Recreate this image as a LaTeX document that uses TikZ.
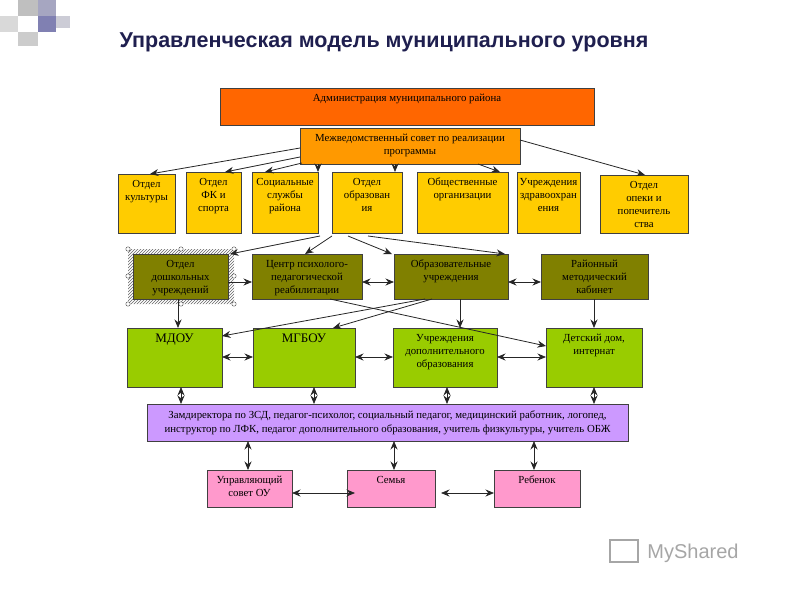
\documentclass[tikz,border=0pt]{standalone}
\usepackage{fontspec}
\setmainfont{Liberation Serif}
\newfontfamily\titlefont{Liberation Sans}
\usetikzlibrary{patterns,arrows.meta}
\definecolor{cAdm}{HTML}{FF6600}
\definecolor{cSov}{HTML}{FF9900}
\definecolor{cYel}{HTML}{FFCC00}
\definecolor{cOl}{HTML}{808000}
\definecolor{cGr}{HTML}{99CC00}
\definecolor{cPur}{HTML}{CC99FF}
\definecolor{cPink}{HTML}{FF99CC}
\definecolor{cTitle}{HTML}{1F1F4F}
\tikzset{
 ar/.style={-{Stealth[length=8.5pt,width=7pt]},line width=0.8pt,black!85},
 dar/.style={{Stealth[length=8.5pt,width=7pt]}-{Stealth[length=8.5pt,width=7pt]},line width=0.8pt,black!85},
 bt/.style={inner sep=0,align=center,font=\fontsize{10.8}{13}\selectfont},
}
\newcommand{\bxat}[7]{% name, x1,y1,x2,y2, color, text
 \fill[#6,draw=black!75,line width=0.6pt] (#2,#3) rectangle (#4,#5);
 \node[bt,anchor=north] (#1) at ({(#2+#4)/2},{#3+6}) {#7};}
\begin{document}
\begin{tikzpicture}[x=1pt,y=-1pt]
\useasboundingbox (0,0) rectangle (800,600);
\fill[white] (0,0) rectangle (800,600);
% decor
\fill[black!25] (18,0) rectangle (38,16);
\fill[blue!30!black!35] (38,0) rectangle (56,16);
\fill[black!15] (0,16) rectangle (18,32);
\fill[blue!40!black!50] (38,16) rectangle (56,32);
\fill[black!20] (18,32) rectangle (38,46);
\fill[blue!20!black!20] (56,16) rectangle (70,28);
\node[font=\titlefont\bfseries\fontsize{21.5}{24}\selectfont,text=cTitle] (title) at (384,42) {Управленческая модель муниципального уровня};
% boxes
\fill[cAdm,draw=black!75,line width=0.6pt] (220,88) rectangle (594,125);
\node[bt] (adm) at (407,99) {Администрация муниципального района};
\fill[cSov,draw=black!75,line width=0.6pt] (300,128) rectangle (520,164);
\node[bt] (sov) at (410,145) {Межведомственный совет по реализации\\программы};
\coordinate (sovA) at (300,148);\coordinate (sovB) at (300,157);\coordinate (sovC) at (302,163);
\coordinate (sovD) at (318,164);\coordinate (sovE) at (395,164);\coordinate (sovF) at (478,164);\coordinate (sovG) at (520,140);
\bxat{k}{118}{174}{175}{233}{cYel}{Отдел\\культуры}
\bxat{fk}{186}{172}{241}{233}{cYel}{Отдел\\ФК и\\спорта}
\bxat{soc}{252}{172}{318}{233}{cYel}{Социальные\\службы\\района}
\bxat{obr}{332}{172}{402}{233}{cYel}{Отдел\\образован\\ия}
\bxat{ob}{417}{172}{508}{233}{cYel}{Общественные\\организации}
\bxat{zd}{517}{172}{580}{233}{cYel}{Учреждения\\здравоохран\\ения}
\bxat{op}{600}{175}{688}{233}{cYel}{Отдел\\опеки и\\попечитель\\ства}
\coordinate (kT) at (150,174);\coordinate (fkT) at (225,172);\coordinate (socT) at (265,172);
\coordinate (obrT) at (318,172);\coordinate (obT) at (395,172);\coordinate (zdT) at (500,172);\coordinate (opT) at (645,175);
\foreach \a/\b in {sovA/kT,sovB/fkT,sovC/socT,sovD/obrT,sovE/obT,sovF/zdT,sovG/opT}\draw[ar] (\a)--(\b);
% row4
\fill[pattern=north east lines,pattern color=black!60,even odd rule] (128,249) rectangle (234,304) (133,254) rectangle (228,299);
\bxat{dosh}{133}{254}{228}{299}{cOl}{Отдел\\дошкольных\\учреждений}
\foreach \p in {(128,249),(181,249),(234,249),(128,276),(234,276),(128,304),(181,304),(234,304)} \draw[black!70,fill=white] \p circle (2.2);
\bxat{cen}{252}{254}{362}{299}{cOl}{Центр психолого-\\педагогической\\реабилитации}
\bxat{ou}{394}{254}{508}{299}{cOl}{Образовательные\\учреждения}
\bxat{rmk}{541}{254}{648}{299}{cOl}{Районный\\методический\\кабинет}
\coordinate (o1) at (320,236);\coordinate (o2) at (332,236);\coordinate (o3) at (348,236);\coordinate (o4) at (368,236);
\draw[ar] (o1)--(230,254);\draw[ar] (o2)--(305,254);\draw[ar] (o3)--(392,254);\draw[ar] (o4)--(505,254);
\draw[ar] (228,282)--(252,282);
\draw[dar] (362,282)--(394,282);
\draw[dar] (508,282)--(541,282);
% row5
\bxat{mdou}{127}{328}{222}{387}{cGr}{\fontsize{13}{15}\selectfont МДОУ}
\bxat{mgbou}{253}{328}{355}{387}{cGr}{\fontsize{13}{15}\selectfont МГБОУ}
\bxat{dop}{393}{328}{497}{387}{cGr}{Учреждения\\дополнительного\\образования}
\bxat{dd}{546}{328}{642}{387}{cGr}{Детский дом,\\интернат}
\draw[ar] (178,299)--(178,328);
\draw[ar] (460,299)--(460,328);
\draw[ar] (594,299)--(594,328);
\draw[ar] (425,299)--(222,336);
\draw[ar] (432,299)--(333,328);
\draw[ar] (330,299)--(546,346);
\draw[dar] (222,357)--(253,357);
\draw[dar] (355,357)--(393,357);
\draw[dar] (497,357)--(546,357);
% purple
\fill[cPur,draw=black!75,line width=0.6pt] (147,404) rectangle (628,441);
\node[font=\fontsize{10.8}{14}\selectfont,align=center] (st) at (387.5,422.5) {Замдиректора по ЗСД, педагог-психолог, социальный педагог, медицинский работник, логопед,\\инструктор по ЛФК, педагог дополнительного образования, учитель физкультуры, учитель ОБЖ};
\foreach \x in {181,314,447,594}\draw[dar] (\x,387)--(\x,404);
% pink
\bxat{upr}{207}{470}{292}{507}{cPink}{Управляющий\\совет ОУ}
\bxat{sem}{347}{470}{435}{507}{cPink}{Семья}
\bxat{reb}{494}{470}{580}{507}{cPink}{Ребенок}
\foreach \x in {248,394,534}\draw[dar] (\x,441)--(\x,470);
\draw[dar] (292,493)--(355,493);
\draw[dar] (441,493)--(494,493);
% watermark
\node[font=\titlefont\fontsize{20}{22}\selectfont,text=black!35] (ms) at (693,553) {MyShared};
\draw[black!35,line width=1.5pt] (610,540) rectangle (638,562);
\end{tikzpicture}
\end{document}
